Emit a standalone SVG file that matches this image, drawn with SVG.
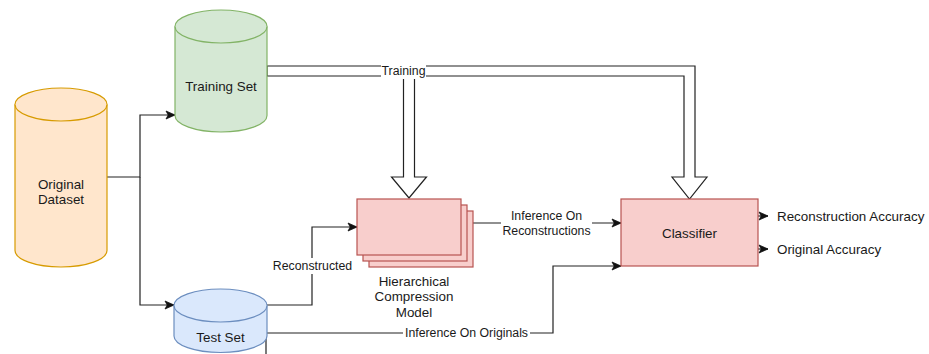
<svg xmlns="http://www.w3.org/2000/svg" width="929" height="354" viewBox="0 0 929 354">
<defs>
<marker id="arr" markerUnits="userSpaceOnUse" markerWidth="10" markerHeight="10" refX="9" refY="4" orient="auto" overflow="visible">
<path d="M0,0 L9,4 L0,8 L2.2,4 Z" fill="#111" stroke="#111" stroke-width="0.8" stroke-linejoin="miter"/>
</marker>
<style>
text{font-family:"Liberation Sans",Arial,Helvetica,sans-serif;fill:#1a1a1a}
.nl{font-size:13.4px;text-anchor:middle}
.el{font-size:12.3px;text-anchor:middle}
.ol{font-size:13.4px}
.conn{fill:none;stroke:#222;stroke-width:1.2}
.lbg{fill:#fff}
.flex{fill:#fff;stroke:#222;stroke-width:1.2;stroke-linejoin:miter}
.org{fill:#ffe6cc;stroke:#d79b00;stroke-width:1.2}
.grn{fill:#d5e8d4;stroke:#82b366;stroke-width:1.2}
.blu{fill:#dae8fc;stroke:#6c8ebf;stroke-width:1.2}
.red{fill:#f8cecc;stroke:#b85450;stroke-width:1.2}
</style>
</defs>
<rect width="929" height="354" fill="#fff"/>

<g id="connectors">
<path class="conn" d="M107,177 H140 V115 H175" marker-end="url(#arr)"/>
<path class="conn" d="M140,177 V305 H174" marker-end="url(#arr)"/>
<path class="conn" d="M267,305 H312 V227 H357" marker-end="url(#arr)"/>
<path class="conn" d="M472,223 H621" marker-end="url(#arr)"/>
<path class="conn" d="M267,333 H553 V266 H621" marker-end="url(#arr)"/>
<path class="conn" d="M266,333 V354"/>
<path class="conn" d="M758,216 H768" marker-end="url(#arr)"/>
<path class="conn" d="M758,249 H768" marker-end="url(#arr)"/>
<path class="flex" d="M267,66 H695 V177 H707 L689.5,199 L672,177 H684 V76 H414.5 V177 H426.5 L409,198 L391.5,177 H403.5 V76 H267 Z"/>
<rect class="lbg" x="381" y="63" width="45" height="16"/>
<text class="el" x="403.5" y="75.3">Training</text>
<rect class="lbg" x="272" y="258" width="81" height="16"/>
<text class="el" x="312.5" y="270.3">Reconstructed</text>
<rect class="lbg" x="501" y="209" width="91" height="29"/>
<text class="el" x="546.5" y="220.3">Inference On</text>
<text class="el" x="546.5" y="235.3">Reconstructions</text>
<rect class="lbg" x="403" y="325" width="127" height="16"/>
<text class="el" x="466.5" y="337.3">Inference On Originals</text>
</g>

<g id="original-dataset">
<path class="org" d="M15,104.5 A46,16.5 0 0 1 107,104.5 V250.5 A46,16.5 0 0 1 15,250.5 Z"/>
<path class="org" fill="none" d="M15,104.5 A46,16.5 0 0 0 107,104.5"/>
<text class="nl" x="61" y="188.7">Original</text>
<text class="nl" x="61" y="203.7">Dataset</text>
</g>

<g id="training-set">
<path class="grn" d="M175,26.5 A46,16.5 0 0 1 267,26.5 V115.5 A46,16.5 0 0 1 175,115.5 Z"/>
<path class="grn" fill="none" d="M175,26.5 A46,16.5 0 0 0 267,26.5"/>
<text class="nl" x="221" y="90.7">Training Set</text>
</g>

<g id="test-set">
<path class="blu" d="M174,305.5 A46.5,16.5 0 0 1 267,305.5 V336 A46.5,16.5 0 0 1 174,336 Z"/>
<path class="blu" fill="none" d="M174,305.5 A46.5,16.5 0 0 0 267,305.5"/>
<text class="nl" x="220.5" y="341.7">Test Set</text>
</g>

<g id="hierarchical-compression-model">
<rect class="red" x="369" y="211" width="104" height="56"/>
<rect class="red" x="363" y="205" width="104" height="56"/>
<rect class="red" x="357" y="199" width="104" height="56"/>
<text class="nl" x="414" y="285.7">Hierarchical</text>
<text class="nl" x="414" y="301.4">Compression</text>
<text class="nl" x="414" y="317">Model</text>
</g>

<g id="classifier">
<rect class="red" x="621" y="199" width="137" height="67"/>
<text class="nl" x="689.5" y="237.7">Classifier</text>
</g>

<g id="outputs">
<text class="ol" x="777" y="220.7">Reconstruction Accuracy</text>
<text class="ol" x="777" y="253.7">Original Accuracy</text>
</g>
</svg>
